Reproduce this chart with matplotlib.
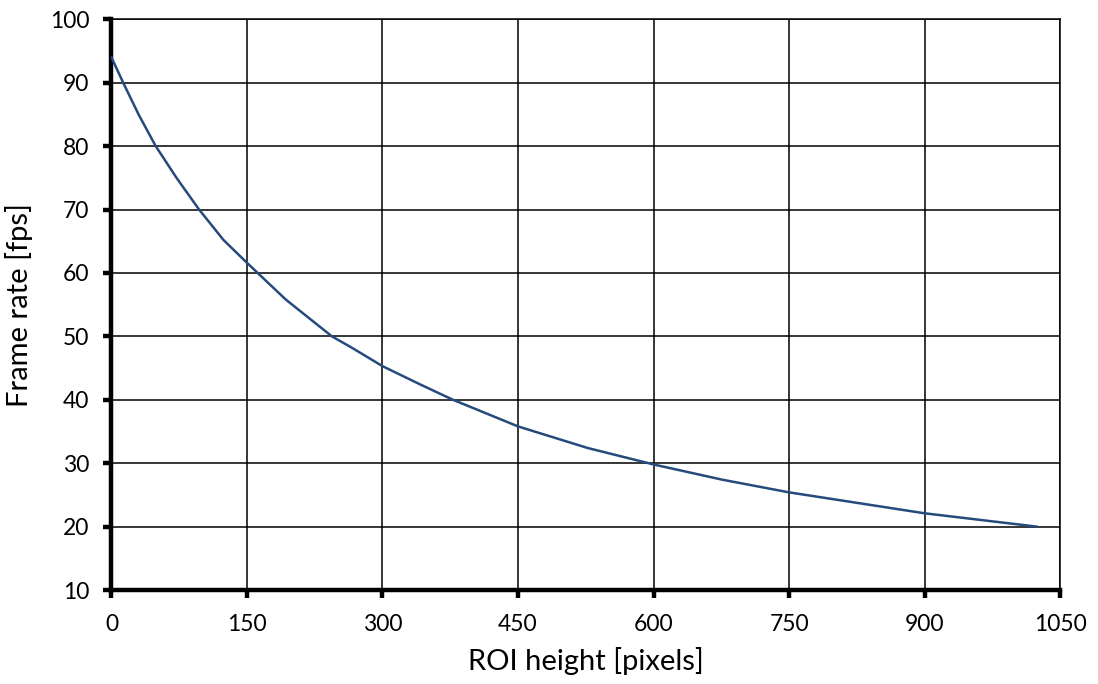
import matplotlib
matplotlib.use("Agg")
import matplotlib.pyplot as plt

# ROI height vs frame rate
roi_height = [0, 13, 30, 49, 72, 97, 124, 150, 193, 244, 265, 300, 342, 378, 450, 527, 600, 676, 750, 900, 1024]
frame_rate = [94, 90, 85, 80, 75, 70, 65.2, 61.6, 55.8, 50, 48.3, 45.3, 42.4, 40, 35.8, 32.4, 29.8, 27.4, 25.4, 22.1, 20]

x_ticks = list(range(0, 1051, 150))
y_ticks = list(range(10, 101, 10))

plt.rcParams['font.family'] = ['Lato', 'DejaVu Sans']

fig = plt.figure(figsize=(10.98, 6.84), dpi=100)
ax = fig.add_axes([0.1015, 0.1374, 0.864, 0.8344])

ax.plot(roi_height, frame_rate, color='#254A7C', linewidth=1.8, zorder=3)

ax.set_xlim(0, 1050)
ax.set_ylim(10, 100)
ax.set_xticks(x_ticks)
ax.set_yticks(y_ticks)

# grid in black, drawn like the Excel original
ax.grid(True, color='black', linewidth=1.1)
ax.set_axisbelow(True)

for side in ['top', 'right']:
    ax.spines[side].set_linewidth(1.1)
for side in ['left', 'bottom']:
    ax.spines[side].set_linewidth(3.2)

ax.tick_params(axis='both', direction='out', length=6, width=3.2, labelsize=16.5, color='black')
ax.tick_params(axis='y', pad=10)
ax.tick_params(axis='x', pad=11)

ax.set_xlabel('ROI height [pixels]', fontsize=21, labelpad=9)
ax.set_ylabel('Frame rate [fps]', fontsize=21, labelpad=12)

fig.savefig('out.png', dpi=100)
plt.close(fig)
